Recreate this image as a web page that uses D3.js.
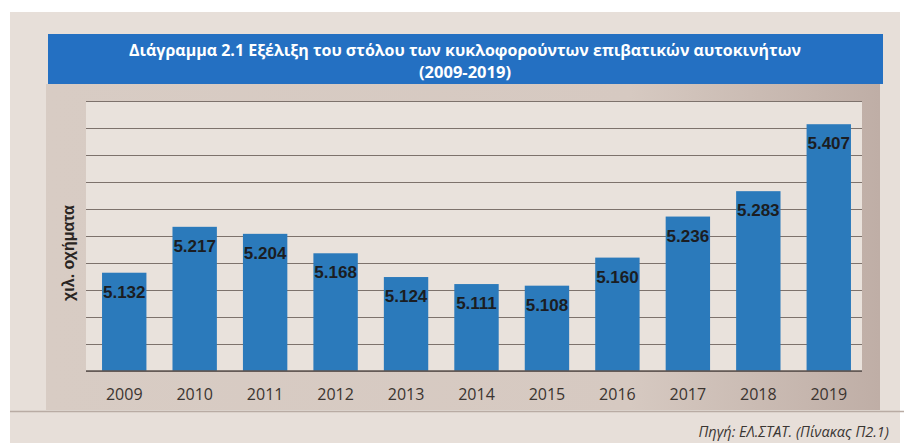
<!DOCTYPE html>
<html>
<head>
<meta charset="utf-8">
<script src="https://cdn.jsdelivr.net/npm/d3@7"></script>
<style>
  html, body { margin: 0; padding: 0; background: #ffffff; }
  svg { display: block; }
</style>
</head>
<body>
<svg id="chart" width="904" height="443"></svg>
<script>
// Passenger car fleet in circulation, thousands of vehicles
const years = ["2009", "2010", "2011", "2012", "2013", "2014", "2015", "2016", "2017", "2018", "2019"];
const fleet = [5132, 5217, 5204, 5168, 5124, 5111, 5108, 5160, 5236, 5283, 5407];
const gridValues = [4950, 5000, 5050, 5100, 5150, 5200, 5250, 5300, 5350, 5400, 5450];
const titleLines = [
  "Διάγραμμα 2.1 Εξέλιξη του στόλου των κυκλοφορούντων επιβατικών αυτοκινήτων",
  "(2009-2019)"
];
const yTitle = "χιλ. οχήματα";
const sourceNote = "Πηγή: ΕΛ.ΣΤΑΤ. (Πίνακας Π2.1)";

const svg = d3.select("#chart");
const W = 904, H = 443;

// Greek number format: dot as thousands separator
const grLocale = d3.formatLocale({ decimal: ",", thousands: ".", grouping: [3], currency: ["", "€"] });
const fmt = grLocale.format(",d");

// page and chart frame
svg.append("rect").attr("x", 10).attr("y", 12).attr("width", W - 14).attr("height", H - 12)
  .attr("fill", "#e7dfd9");

const defs = svg.append("defs");
const shade = defs.append("linearGradient").attr("id", "panelShade")
  .attr("x1", "0%").attr("x2", "100%").attr("y1", "0%").attr("y2", "0%");
shade.append("stop").attr("offset", "0%").attr("stop-color", "#d8ccc4");
shade.append("stop").attr("offset", "70%").attr("stop-color", "#d6c9c1");
shade.append("stop").attr("offset", "100%").attr("stop-color", "#bfaea6");

svg.append("rect").attr("x", 46).attr("y", 84).attr("width", 834).attr("height", 326)
  .attr("fill", "url(#panelShade)");
svg.append("line").attr("x1", 10).attr("x2", W).attr("y1", 411.5).attr("y2", 411.5)
  .attr("stroke", "#b9aca4").attr("stroke-width", 1.5);

// title bar
svg.append("rect").attr("x", 48).attr("y", 34).attr("width", 835).attr("height", 50)
  .attr("fill", "#2470c2");
svg.append("g").selectAll("text").data(titleLines).join("text")
  .attr("x", 465).attr("y", (d, i) => 56 + i * 22)
  .attr("text-anchor", "middle")
  .attr("font-family", "'Open Sans', 'DejaVu Sans', sans-serif")
  .attr("font-weight", "bold").attr("font-size", 16.5)
  .attr("fill", "#ffffff")
  .attr("textLength", (d, i) => i === 0 ? 672 : null)
  .attr("lengthAdjust", "spacingAndGlyphs")
  .text(d => d);

// scales
const x = d3.scaleBand().domain(years).range([89, 864]).paddingInner(0.37).paddingOuter(0.185);
const y = d3.scaleLinear().domain([4950, 5450]).range([371, 101]);

// plot area background
svg.append("rect").attr("x", 86).attr("y", y(5450)).attr("width", 776).attr("height", y(4950) - y(5450))
  .attr("fill", "#e9e2dc");

// horizontal gridlines
const yAxis = d3.axisLeft(y).tickValues(gridValues).tickSize(-(862 - 86)).tickFormat("");
const gy = svg.append("g").attr("transform", "translate(86,0)").call(yAxis);
gy.select(".domain").remove();
gy.selectAll(".tick line").attr("stroke", "#7d726c").attr("stroke-width", 1.1);

// bars
svg.append("g").selectAll("rect").data(fleet).join("rect")
  .attr("x", (d, i) => x(years[i]))
  .attr("y", d => y(d))
  .attr("width", x.bandwidth())
  .attr("height", d => y(4950) - y(d))
  .attr("fill", "#2b7abb");

// value labels inside the top of each bar
svg.append("g").selectAll("text").data(fleet).join("text")
  .attr("x", (d, i) => x(years[i]) + x.bandwidth() / 2)
  .attr("y", d => y(d) + 25)
  .attr("text-anchor", "middle")
  .attr("font-family", "'Liberation Sans', Arial, sans-serif")
  .attr("font-weight", "bold").attr("font-size", 17)
  .attr("fill", "#1b1d22")
  .text(d => fmt(d));

// category axis
const xAxis = d3.axisBottom(x).tickSize(0).tickPadding(18);
const gx = svg.append("g").attr("transform", `translate(0,${y(4950)})`).call(xAxis);
gx.select(".domain").attr("stroke", "#5e5550").attr("stroke-width", 1.4)
  .attr("d", "M86,0H862");
gx.selectAll(".tick text")
  .attr("font-family", "'Open Sans', 'Liberation Sans', sans-serif")
  .attr("font-size", 16).attr("fill", "#3b3430");

// vertical axis title
svg.append("text")
  .attr("transform", "translate(74,253) rotate(-90)")
  .attr("text-anchor", "middle")
  .attr("font-family", "'Liberation Sans', Arial, sans-serif")
  .attr("font-weight", "bold").attr("font-size", 16)
  .attr("fill", "#2a2522")
  .text(yTitle);

// source note
svg.append("text")
  .attr("x", 889).attr("y", 437)
  .attr("text-anchor", "end")
  .attr("font-family", "'Open Sans', 'Liberation Sans', sans-serif")
  .attr("font-style", "italic").attr("font-size", 14.5)
  .attr("fill", "#3a3633")
  .text(sourceNote);
</script>
</body>
</html>
